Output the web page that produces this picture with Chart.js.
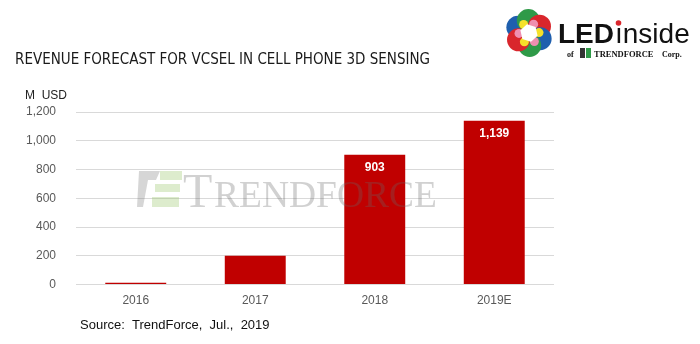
<!DOCTYPE html>
<html>
<head>
<meta charset="utf-8">
<script src="https://cdn.jsdelivr.net/npm/chart.js@4"></script>
<style>
  html, body { margin: 0; padding: 0; background: #fff; }
  #wrap { width: 700px; height: 344px; position: relative; }
</style>
</head>
<body>
<div id="wrap"><canvas id="chart"></canvas></div>
<script>
const years = ['2016', '2017', '2018', '2019E'];
const revenue = [12, 200, 903, 1139];
const barLabels = ['', '', '903', '1,139'];
const yTicks = [0, 200, 400, 600, 800, 1000, 1200];

const titleText = 'REVENUE FORECAST FOR VCSEL IN CELL PHONE 3D SENSING';
const unitText = 'M  USD';
const sourceText = 'Source:  TrendForce,  Jul.,  2019';

// fit a string into a given width by shrinking the font
function fitText(ctx, text, x, y, width, fontFn, size) {
    ctx.font = fontFn(size);
    while (ctx.measureText(text).width > width && size > 5) {
        size -= 0.5;
        ctx.font = fontFn(size);
    }
    ctx.fillText(text, x, y);
    return ctx.measureText(text).width;
}

// texts, watermark and logo drawn straight on the canvas
const decor = {
    id: 'decor',
    beforeDraw(chart) {
        const ctx = chart.ctx;
        ctx.save();
        ctx.fillStyle = '#fff';
        ctx.fillRect(0, 0, chart.width, chart.height);

        ctx.fillStyle = '#1a1a1a';
        ctx.textBaseline = 'middle';
        ctx.font = '500 15px "DejaVu Sans Condensed", sans-serif';
        ctx.fillText(titleText, 15, 60);

        ctx.font = '12px "Liberation Sans", Arial, sans-serif';
        ctx.fillStyle = '#222';
        ctx.fillText(unitText, 25, 96);

        ctx.font = '13px "Liberation Sans", Arial, sans-serif';
        ctx.fillStyle = '#111';
        ctx.fillText(sourceText, 80, 325);

        drawLogo(ctx);
        ctx.restore();
    },
    afterDatasetsDraw(chart) {
        const ctx = chart.ctx;
        const meta = chart.getDatasetMeta(0);
        ctx.save();

        // TrendForce watermark
        ctx.globalAlpha = 0.3;
        ctx.fillStyle = '#777';
        ctx.beginPath();
        ctx.moveTo(139, 171); ctx.lineTo(160, 171); ctx.lineTo(156, 180); ctx.lineTo(148, 180);
        ctx.lineTo(143, 207); ctx.lineTo(137, 207);
        ctx.closePath(); ctx.fill();
        ctx.fillStyle = '#8fbf5a';
        ctx.fillRect(160, 171, 22, 9);
        ctx.fillRect(155, 184, 25, 8);
        ctx.fillRect(152, 197, 27, 10);
        ctx.fillStyle = '#666';
        ctx.textBaseline = 'alphabetic';
        ctx.font = '48px "Liberation Serif", serif';
        ctx.fillText('T', 183, 207);
        fitText(ctx, 'RENDFORCE', 214, 207, 223, s => s + 'px "Liberation Serif", serif', 40);
        ctx.globalAlpha = 1;

        // value labels inside the bars
        ctx.fillStyle = '#fff';
        ctx.font = 'bold 12px "Liberation Sans", Arial, sans-serif';
        ctx.textAlign = 'center';
        ctx.textBaseline = 'middle';
        meta.data.forEach((bar, i) => {
            if (barLabels[i]) ctx.fillText(barLabels[i], bar.x, bar.y + 13);
        });
        ctx.restore();
    }
};

function drawLogo(ctx) {
    const cx = 529, cy = 33;
    const petals = ['#1f5fae', '#2f9a48', '#d9262c', '#1f5fae', '#2f9a48', '#d9262c'];
    for (let i = 0; i < 6; i++) {
        const a = -Math.PI * 0.85 + i * Math.PI / 3;
        ctx.fillStyle = petals[i];
        ctx.beginPath();
        ctx.arc(cx + Math.cos(a) * 12.5, cy + Math.sin(a) * 12.5, 11.5, 0, Math.PI * 2);
        ctx.fill();
    }
    const inner = ['#f5e12a', '#ef8fb0', '#f5e12a', '#ef8fb0', '#f5e12a', '#ef8fb0'];
    for (let i = 0; i < 6; i++) {
        const a = -Math.PI * 0.68 + i * Math.PI / 3;
        ctx.fillStyle = inner[i];
        ctx.beginPath();
        ctx.arc(cx + Math.cos(a) * 10, cy + Math.sin(a) * 10, 4.5, 0, Math.PI * 2);
        ctx.fill();
    }
    ctx.fillStyle = '#fff';
    ctx.beginPath();
    for (let i = 0; i < 6; i++) {
        const a = i * Math.PI / 3 + 0.3;
        const px = cx + Math.cos(a) * 9, py = cy + Math.sin(a) * 9;
        if (i === 0) ctx.moveTo(px, py); else ctx.lineTo(px, py);
    }
    ctx.closePath(); ctx.fill();

    ctx.textBaseline = 'alphabetic';
    ctx.fillStyle = '#111';
    ctx.font = 'bold 28px "Liberation Sans", Arial, sans-serif';
    ctx.fillText('LED', 558, 43);
    const w = ctx.measureText('LED').width;
    ctx.font = '28px "Liberation Sans", Arial, sans-serif';
    const x2 = 558 + w + 1;
    fitText(ctx, 'ınside', x2, 43, 690 - x2, s => s + 'px "Liberation Sans", Arial, sans-serif', 28);
    ctx.fillStyle = '#d9262c';
    ctx.beginPath();
    ctx.arc(x2 + 3.5, 23, 2.8, 0, Math.PI * 2);
    ctx.fill();

    ctx.fillStyle = '#111';
    ctx.font = 'bold 8px "Liberation Serif", serif';
    ctx.fillText('of', 567, 57);
    ctx.fillStyle = '#333';
    ctx.fillRect(580, 48, 5, 10);
    ctx.fillStyle = '#2f9a48';
    ctx.fillRect(586, 48, 5, 10);
    ctx.fillStyle = '#111';
    fitText(ctx, 'TRENDFORCE', 594, 57, 62, s => 'bold ' + s + 'px "Liberation Serif", serif', 10);
    ctx.font = 'bold 8px "Liberation Serif", serif';
    ctx.fillText('Corp.', 662, 57);
}

new Chart('chart', {
    type: 'bar',
    data: {
        labels: years,
        datasets: [{
            data: revenue,
            backgroundColor: '#c00000',
            barPercentage: 0.51,
            categoryPercentage: 1.0
        }]
    },
    options: {
        responsive: true,
        maintainAspectRatio: false,
        animation: false,
        layout: { padding: { top: 112, right: 146, bottom: 27, left: 0 } },
        plugins: {
            legend: { display: false },
            tooltip: { enabled: false }
        },
        scales: {
            x: {
                grid: { display: false, drawTicks: false },
                border: { display: false },
                ticks: { color: '#595959', padding: 9, font: { family: '"Liberation Sans", Arial', size: 12 } }
            },
            y: {
                min: 0,
                max: 1200,
                afterBuildTicks: (scale) => { scale.ticks = yTicks.map(v => ({ value: v })); },
                afterFit: (scale) => { scale.width = 76; },
                grid: { color: '#d9d9d9', drawTicks: false },
                border: { display: false },
                ticks: {
                    color: '#595959',
                    padding: 20,
                    font: { family: '"Liberation Sans", Arial', size: 12 },
                    callback: (v) => v.toLocaleString('en-US')
                }
            }
        }
    },
    plugins: [decor]
});
</script>
</body>
</html>
